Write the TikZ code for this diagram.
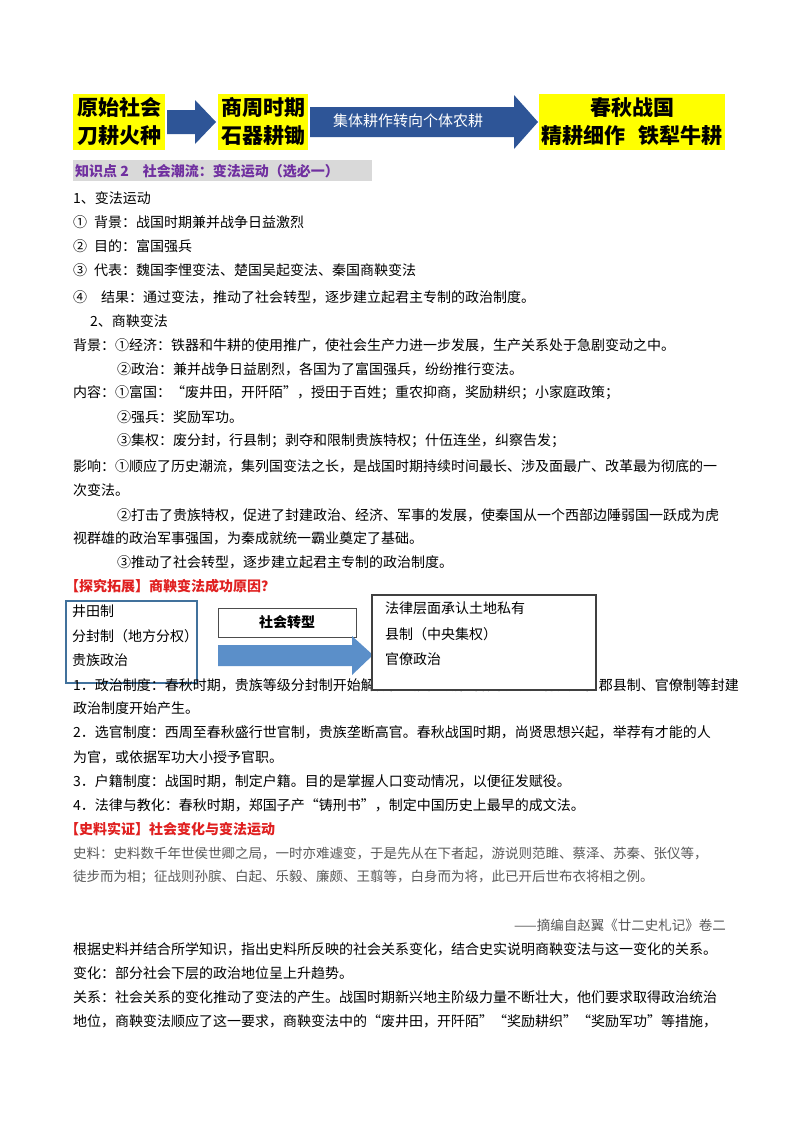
\documentclass[tikz,border=0pt]{standalone}
\usepackage{fontspec}
\setmainfont{Noto Sans CJK SC}
\definecolor{ybox}{HTML}{FFFF00}
\definecolor{barrow}{HTML}{2E5597}
\definecolor{larrow}{HTML}{5B8FC9}
\definecolor{bframe}{HTML}{41719C}
\definecolor{purp}{HTML}{7030A0}
\definecolor{redt}{HTML}{E02020}
\tikzset{
  t/.style={anchor=west,inner sep=0pt,font=\fontsize{14}{16}\selectfont},
  src/.style={t,text=black!65,font=\fontsize{13.5}{16}\selectfont},
  red/.style={t,text=redt,font=\bfseries\fontsize{14}{16}\selectfont},
  yb/.style={fill=ybox,inner sep=2pt,align=center,font=\bfseries\fontsize{21}{28}\selectfont},
}
\begin{document}
\begin{tikzpicture}[x=1pt,y=-1pt]
\useasboundingbox (0,0) rectangle (800,1132);
\fill[white] (0,0) rectangle (800,1132);
% top banner
\node[yb,minimum width=92,minimum height=56] (b1) at (119,122) {原始社会\\刀耕火种};
\node[yb,minimum width=90,minimum height=56] (b2) at (263,122) {商周时期\\石器耕锄};
\node[yb,minimum width=186,minimum height=56] (b3) at (632,122) {春秋战国\\精耕细作\hspace{0.6em}铁犁牛耕};
\fill[barrow] (167,110) -- (195,110) -- (195,100) -- (216,122) -- (195,144) -- (195,134) -- (167,134) -- cycle;
\fill[barrow] (310,107) -- (514,107) -- (514,95) -- (538,122) -- (514,149) -- (514,137) -- (310,137) -- cycle;
\node[text=white,font=\fontsize{15}{16}\selectfont] (a2) at (408,121) {集体耕作转向个体农耕};
% header
\fill[black!15] (73,160) rectangle (372,181);
\node[t,text=purp,font=\bfseries\fontsize{14}{16}\selectfont] (h) at (75,171) {知识点 2\hspace{1em}社会潮流：变法运动（选必一）};
% body
\node[t] (l1) at (73,198) {1、变法运动};
\node[t] (l2) at (73,222) {①\hspace{0.5em}背景：战国时期兼并战争日益激烈};
\node[t] (l3) at (73,246) {②\hspace{0.5em}目的：富国强兵};
\node[t] (l4) at (73,270) {③\hspace{0.5em}代表：魏国李悝变法、楚国吴起变法、秦国商鞅变法};
\node[t] (l5) at (73,297) {④\hspace{1em}结果：通过变法，推动了社会转型，逐步建立起君主专制的政治制度。};
\node[t] (l6) at (90,321) {2、商鞅变法};
\node[t] (l7) at (73,345) {背景：①经济：铁器和牛耕的使用推广，使社会生产力进一步发展，生产关系处于急剧变动之中。};
\node[t] (l8) at (117,369) {②政治：兼并战争日益剧烈，各国为了富国强兵，纷纷推行变法。};
\node[t] (l9) at (73,393) {内容：①富国：“废井田，开阡陌”，授田于百姓；重农抑商，奖励耕织；小家庭政策；};
\node[t] (l10) at (117,417) {②强兵：奖励军功。};
\node[t] (l11) at (117,441) {③集权：废分封，行县制；剥夺和限制贵族特权；什伍连坐，纠察告发；};
\node[t] (l12) at (73,466) {影响：①顺应了历史潮流，集列国变法之长，是战国时期持续时间最长、涉及面最广、改革最为彻底的一};
\node[t] (l13) at (73,490) {次变法。};
\node[t] (l14) at (117,515) {②打击了贵族特权，促进了封建政治、经济、军事的发展，使秦国从一个西部边陲弱国一跃成为虎};
\node[t] (l15) at (73,538) {视群雄的政治军事强国，为秦成就统一霸业奠定了基础。};
\node[t] (l16) at (117,562) {③推动了社会转型，逐步建立起君主专制的政治制度。};
\node[red] (r1) at (65,586) {【探究拓展】商鞅变法成功原因？};
% diagram boxes
\draw[bframe,line width=2.5pt,fill=white] (66,601) rectangle (197,683);
\node[t] (p1) at (72,611) {井田制};
\node[t] (p2) at (72,636) {分封制（地方分权）};
\node[t] (p3) at (72,660) {贵族政治};
\node[t] (m1) at (73,685) {1．政治制度：春秋时期，贵族等级分封制开始解体，战国时期，各国纷纷实行变法，郡县制、官僚制等封建};
\node[t] (m2) at (73,708) {政治制度开始产生。};
\draw[black!70,line width=0.8pt] (218,608) rectangle (356,637);
\node[font=\bfseries\fontsize{14}{16}\selectfont] (st) at (287,622) {社会转型};
\fill[larrow] (218,645) -- (352,645) -- (352,636) -- (373,655) -- (352,675) -- (352,666) -- (218,666) -- cycle;
\draw[black!75,line width=1.6pt,fill=white] (372,595) rectangle (596,690);
\node[t] (q1) at (385,608) {法律层面承认土地私有};
\node[t] (q2) at (385,634) {县制（中央集权）};
\node[t] (q3) at (385,659) {官僚政治};
\node[t] (m3) at (73,732) {2．选官制度：西周至春秋盛行世官制，贵族垄断高官。春秋战国时期，尚贤思想兴起，举荐有才能的人};
\node[t] (m4) at (73,757) {为官，或依据军功大小授予官职。};
\node[t] (m5) at (73,781) {3．户籍制度：战国时期，制定户籍。目的是掌握人口变动情况，以便征发赋役。};
\node[t] (m6) at (73,805) {4．法律与教化：春秋时期，郑国子产“铸刑书”，制定中国历史上最早的成文法。};
\node[red] (r2) at (65,829) {【史料实证】社会变化与变法运动};
\node[src] (s1) at (73,853) {史料：史料数千年世侯世卿之局，一时亦难遽变，于是先从在下者起，游说则范雎、蔡泽、苏秦、张仪等，};
\node[src] (s2) at (73,877) {徒步而为相；征战则孙膑、白起、乐毅、廉颇、王翦等，白身而为将，此已开后世布衣将相之例。};
\node[src,anchor=east] (s3) at (726,925) {——摘编自赵翼《廿二史札记》卷二};
\node[t] (n1) at (73,949) {根据史料并结合所学知识，指出史料所反映的社会关系变化，结合史实说明商鞅变法与这一变化的关系。};
\node[t] (n2) at (73,973) {变化：部分社会下层的政治地位呈上升趋势。};
\node[t] (n3) at (73,997) {关系：社会关系的变化推动了变法的产生。战国时期新兴地主阶级力量不断壮大，他们要求取得政治统治};
\node[t] (n4) at (73,1021) {地位，商鞅变法顺应了这一要求，商鞅变法中的“废井田，开阡陌”“奖励耕织”“奖励军功”等措施，};
\end{tikzpicture}
\end{document}
